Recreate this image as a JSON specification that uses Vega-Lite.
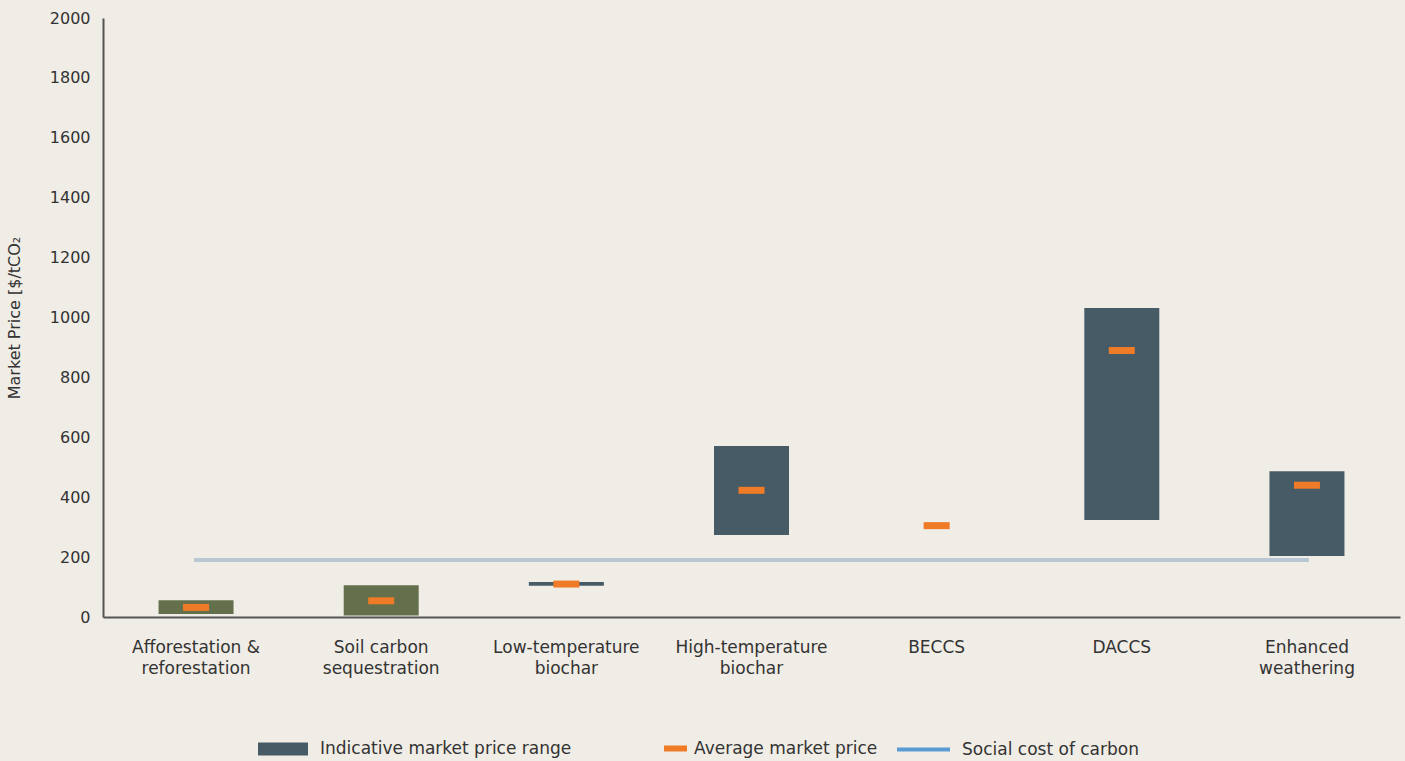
{
  "$schema": "https://vega.github.io/schema/vega-lite/v6.json",
  "autosize": "none",
  "width": 1297,
  "height": 599,
  "padding": {"left": 103, "top": 18, "right": 5, "bottom": 144},
  "background": "#f0ece6",
  "config": {
    "view": {"stroke": null},
    "font": "DejaVu Sans",
    "axis": {"labelFont": "DejaVu Sans", "titleFont": "DejaVu Sans", "labelColor": "#333333", "titleColor": "#333333", "grid": false, "ticks": false, "domainColor": "#555555", "domainWidth": 2},
    "legend": {"labelFont": "DejaVu Sans", "labelFontSize": 17, "labelColor": "#333333", "labelLimit": 400}
  },
  "data": {
    "values": [
      {"category": "Afforestation & reforestation", "low": 10, "high": 56, "avg": 32, "scc": 190, "group": "Nature-based"},
      {"category": "Soil carbon sequestration", "low": 5, "high": 106, "avg": 54, "scc": 190, "group": "Nature-based"},
      {"category": "Low-temperature biochar", "low": 104, "high": 117, "avg": 110, "scc": 190, "group": "Indicative market price range"},
      {"category": "High-temperature biochar", "low": 274, "high": 571, "avg": 423, "scc": 190, "group": "Indicative market price range"},
      {"category": "BECCS", "low": null, "high": null, "avg": 305, "scc": 190, "group": "Indicative market price range"},
      {"category": "DACCS", "low": 324, "high": 1032, "avg": 890, "scc": 190, "group": "Indicative market price range"},
      {"category": "Enhanced weathering", "low": 204, "high": 487, "avg": 440, "scc": 190, "group": "Indicative market price range"}
    ]
  },
  "encoding": {
    "x": {
      "field": "category",
      "type": "nominal",
      "sort": ["Afforestation & reforestation", "Soil carbon sequestration", "Low-temperature biochar", "High-temperature biochar", "BECCS", "DACCS", "Enhanced weathering"],
      "scale": {"paddingInner": 0.595, "paddingOuter": 0.3},
      "axis": {
        "title": null,
        "labelAngle": 0,
        "labelFontSize": 17,
        "labelPadding": 30,
        "labelLineHeight": 21,
        "labelBaseline": "middle",
        "labelExpr": "indexof(datum.value, ' ') < 0 ? datum.value : [slice(datum.value, 0, lastindexof(datum.value, ' ')), slice(datum.value, lastindexof(datum.value, ' ') + 1)]"
      }
    }
  },
  "layer": [
    {
      "mark": {"type": "bar"},
      "encoding": {
        "y": {
          "field": "low",
          "type": "quantitative",
          "scale": {"domain": [0, 2000]},
          "axis": {"title": "Market Price [$/tCO₂", "titleFontSize": 16, "titleFontWeight": "normal", "labelFontSize": 16, "labelPadding": 13, "format": "d", "labelOverlap": false, "values": [0, 200, 400, 600, 800, 1000, 1200, 1400, 1600, 1800, 2000], "titlePadding": 27}
        },
        "y2": {"field": "high"},
        "fill": {
          "field": "group",
          "type": "nominal",
          "scale": {"domain": ["Indicative market price range", "Nature-based"], "range": ["#475b67", "#64704c"]},
          "legend": {
            "title": null,
            "values": ["Indicative market price range"],
            "orient": "none",
            "legendX": 154,
            "legendY": 705,
            "symbolType": "M-1,-0.26H1V0.26H-1Z",
            "symbolSize": 2500,
            "labelOffset": 11
          }
        }
      }
    },
    {
      "mark": {"type": "line", "strokeWidth": 4, "strokeOpacity": 0},
      "encoding": {
        "y": {"field": "scc", "type": "quantitative"},
        "stroke": {
          "datum": "Social cost of carbon",
          "scale": {"range": ["#5b9bd5"]},
          "legend": {
            "title": null,
            "orient": "none",
            "legendX": 792,
            "legendY": 703,
            "symbolType": "M-1,0H1",
            "symbolSize": 2809,
            "symbolStrokeWidth": 4,
            "symbolOpacity": 1,
            "labelOffset": 10
          }
        }
      }
    },
    {
      "mark": {"type": "line", "strokeWidth": 4, "strokeCap": "square", "stroke": "#b9c6d3"},
      "encoding": {
        "y": {"field": "scc", "type": "quantitative"}
      }
    },
    {
      "mark": {"type": "tick", "thickness": 7, "size": 26, "opacity": 1},
      "encoding": {
        "y": {"field": "avg", "type": "quantitative"},
        "color": {
          "datum": "Average market price",
          "scale": {"range": ["#ef7b26"]},
          "legend": {
            "title": null,
            "orient": "none",
            "legendX": 560,
            "legendY": 718,
            "symbolType": "M-1,-0.26H1V0.26H-1Z",
            "symbolSize": 529,
            "labelOffset": 6
          }
        }
      }
    }
  ],
  "resolve": {"scale": {"y": "shared"}}
}
